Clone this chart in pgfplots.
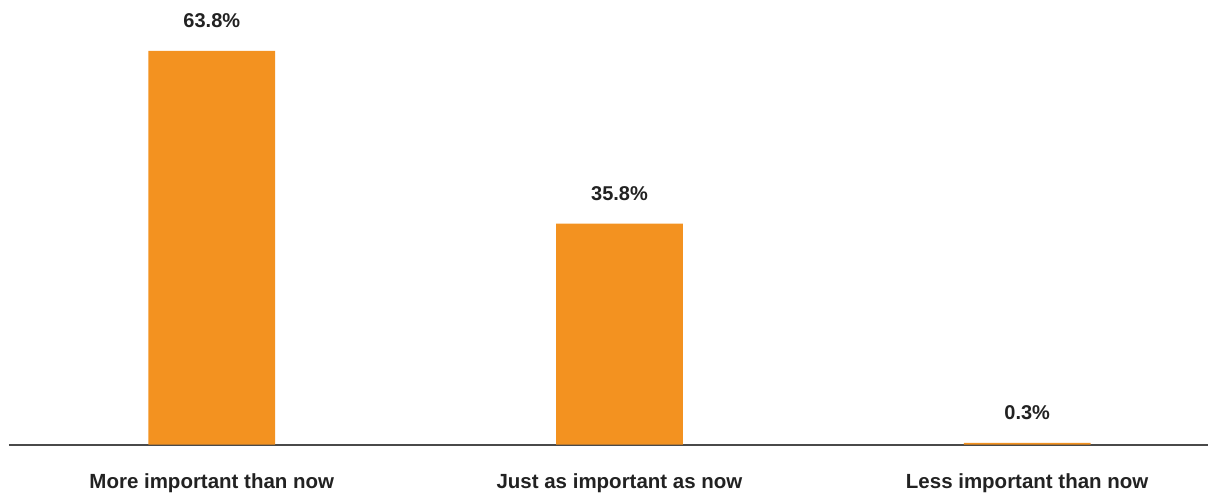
\documentclass[border=0pt]{standalone}
\usepackage{pgfplots}
\pgfplotsset{compat=1.18}
\usepackage{fontspec}
\setmainfont{Liberation Sans}
\definecolor{barorange}{HTML}{F39220}
\definecolor{txt}{HTML}{222222}
\definecolor{axisgray}{HTML}{4A4A4A}
\begin{document}
\begin{tikzpicture}
\begin{axis}[
  at={(0pt,0pt)}, anchor=south west,
  scale only axis,
  width=1200pt, height=445pt,
  xmin=-0.4975, xmax=2.4436,
  ymin=0, ymax=72.06,
  axis y line=none,
  axis x line*=bottom,
  x axis line style={axisgray, line width=2pt, -},
  xtick=data,
  xticklabels={More important than now, Just as important as now, Less important than now},
  xtick style={draw=none},
  xticklabel style={font=\fontsize{20.5}{24}\selectfont\bfseries, text=txt, anchor=base, yshift=-40pt, inner sep=0pt},
  ybar,
  bar width=0.311,
  /pgf/number format/assume math mode=true,
  nodes near coords={\pgfmathprintnumber[fixed, precision=1, fixed zerofill, assume math mode=true]{\pgfplotspointmeta}\%},
  nodes near coords style={font=\fontsize{20}{24}\selectfont\bfseries, text=txt, anchor=base, yshift=23pt, inner sep=0pt},
  clip=false,
]
\addplot[fill=barorange, draw=none] coordinates {(0,63.8) (1,35.8) (2,0.3)};
\end{axis}
\path[use as bounding box] (-9pt,-48pt) rectangle (1200pt,445pt);
\end{tikzpicture}
\end{document}
